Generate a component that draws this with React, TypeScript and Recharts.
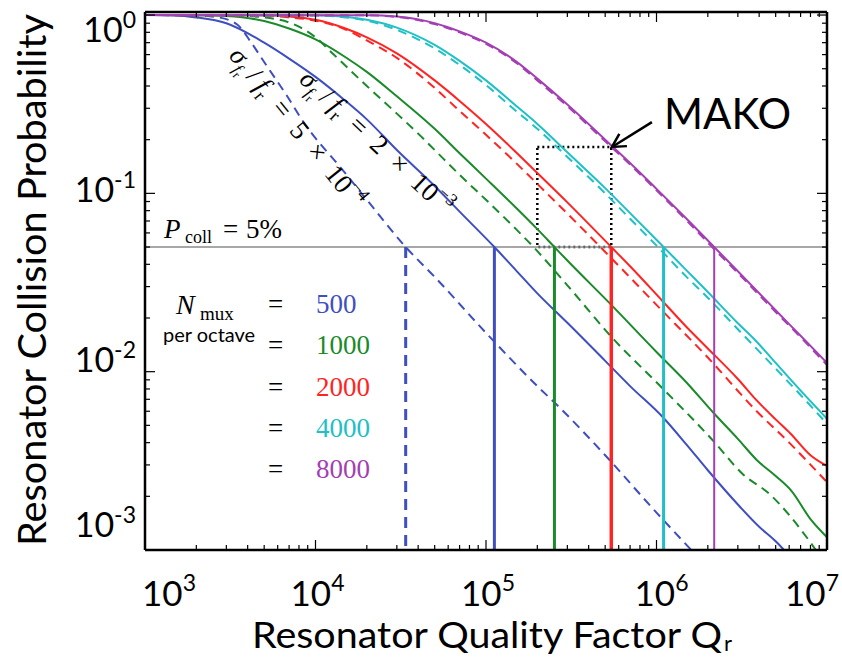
import React from 'react';
import { LineChart, Line, XAxis, YAxis, ReferenceLine, ReferenceArea } from 'recharts';

const W = 842;
const H = 657;

const BLUE = '#3f4fbf';
const GREEN = '#1b8a2b';
const RED = '#ff2424';
const CYAN = '#20c0c6';
const PURPLE = '#a33fb3';

// axis ticks
const xMajor = [1e3, 1e4, 1e5, 1e6, 1e7];
const yMajor = [1e-3, 1e-2, 1e-1, 1];
const minorSteps = [2, 3, 4, 5, 6, 7, 8, 9];
const xTicks = [...xMajor, ...xMajor.slice(0, 4).flatMap((d) => minorSteps.map((k) => k * d))];
const yTicks = [...yMajor, ...yMajor.slice(0, 3).flatMap((d) => minorSteps.map((k) => k * d))];

// [Q, P]
const blueDashed = [
  [1e3, 1], [2e3, 0.995], [2.7e3, 0.97], [3.5e3, 0.88], [4.2e3, 0.7], [5e3, 0.545], [6.7e3, 0.36],
  [9e3, 0.232], [1e4, 0.204], [1.4e4, 0.14], [2e4, 0.092], [3.38e4, 0.05], [5e4, 0.034], [1e5, 0.0165],
  [2e5, 0.0083], [2.7e5, 0.0063], [5e5, 0.0034], [1e6, 0.00162], [1.6e6, 0.001],
];
const blueSolid = [
  [1e3, 1], [1.5e3, 0.995], [2e3, 0.97], [3e3, 0.9], [5e3, 0.7], [7e3, 0.57], [1e4, 0.45], [1.5e4, 0.33],
  [2e4, 0.26], [3e4, 0.175], [5e4, 0.11], [7e4, 0.079], [1.12e5, 0.05], [1.5e5, 0.037], [2e5, 0.0275],
  [3e5, 0.0188], [5e5, 0.0115], [7e5, 0.0083], [1.1e6, 0.0055], [1.5e6, 0.0039], [2e6, 0.0028],
  [3e6, 0.0018], [4e6, 0.00135], [5e6, 0.00112], [5.6e6, 0.001],
];
const greenDashed = [
  [1e3, 1], [3e3, 0.997], [5e3, 0.97], [8.2e3, 0.85], [1e4, 0.75], [1.28e4, 0.6], [2e4, 0.4], [3e4, 0.28],
  [4.13e4, 0.21], [5e4, 0.175], [7e4, 0.127], [1e5, 0.092], [1.5e5, 0.063], [1.9e5, 0.05], [3e5, 0.0305],
  [5.5e5, 0.0155], [1.08e6, 0.0081], [2.15e6, 0.0041], [3.2e6, 0.00267], [4.6e6, 0.00206],
  [7.9e6, 0.00112], [8.6e6, 0.001],
];
const greenSolid = [
  [1e3, 1], [2e3, 0.998], [3e3, 0.987], [5e3, 0.925], [7e3, 0.84], [1e4, 0.73], [1.5e4, 0.58], [2e4, 0.48],
  [3e4, 0.35], [5e4, 0.23], [7e4, 0.168], [1e5, 0.121], [1.5e5, 0.083], [2e5, 0.063], [2.52e5, 0.05],
  [3e5, 0.042], [5.36e5, 0.024], [1e6, 0.0129], [1.5e6, 0.0087], [2.15e6, 0.0059], [3e6, 0.0042],
  [3.87e6, 0.0032], [5e6, 0.0026], [6.2e6, 0.00214], [8e6, 0.00149], [1e7, 0.00118],
];
const redDashed = [
  [1e3, 1], [5e3, 0.993], [7e3, 0.97], [1e4, 0.93], [1.5e4, 0.83], [2e4, 0.72], [3e4, 0.575], [5e4, 0.39],
  [7e4, 0.29], [1e5, 0.213], [1.5e5, 0.148], [2e5, 0.113], [3e5, 0.077], [4.69e5, 0.05], [6.14e5, 0.0384],
  [1e6, 0.0237], [2e6, 0.012], [3.87e6, 0.006], [6e6, 0.004], [1e7, 0.0024],
];
const redSolid = [
  [1e3, 1], [5e3, 0.996], [7e3, 0.981], [1e4, 0.94], [1.5e4, 0.84], [2e4, 0.75], [3e4, 0.61], [5e4, 0.43],
  [7e4, 0.33], [1e5, 0.245], [1.5e5, 0.17], [2e5, 0.13], [3e5, 0.089], [5.43e5, 0.05], [7e5, 0.039],
  [1.08e6, 0.025], [1.5e6, 0.0178], [2e6, 0.0135], [3e6, 0.0091], [3.87e6, 0.0069], [5e6, 0.0054],
  [6.1e6, 0.0045], [8e6, 0.0034], [1e7, 0.00296],
];
const cyanDashed = [
  [1e3, 1], [1e4, 0.995], [1.5e4, 0.97], [2e4, 0.93], [3e4, 0.825], [5e4, 0.65], [7e4, 0.525], [1e5, 0.405],
  [1.5e5, 0.29], [2e5, 0.23], [3e5, 0.16], [5e5, 0.1], [7e5, 0.072], [1.02e6, 0.05], [1.5e6, 0.034],
  [2e6, 0.026], [3e6, 0.0173], [5e6, 0.0104], [7e6, 0.0074], [1e7, 0.0051],
];
const cyanSolid = [
  [1e3, 1], [1e4, 0.997], [1.5e4, 0.977], [2e4, 0.94], [3e4, 0.85], [5e4, 0.68], [7e4, 0.553], [1e5, 0.43],
  [1.5e5, 0.31], [2e5, 0.245], [3e5, 0.17], [5e5, 0.107], [7e5, 0.0775], [1.1e6, 0.05], [1.5e6, 0.037],
  [2e6, 0.028], [3e6, 0.0187], [3.7e6, 0.0154], [5e6, 0.0112], [7.6e6, 0.0072], [1e7, 0.00544],
];
const purpleSolid = [
  [1e3, 1], [2e4, 0.997], [3e4, 0.98], [5e4, 0.9], [7e4, 0.81], [1e5, 0.7], [1.5e5, 0.55], [2e5, 0.44],
  [3e5, 0.315], [5e5, 0.2], [7e5, 0.148], [1e6, 0.106], [1.5e6, 0.072], [2.18e6, 0.05], [3e6, 0.0366],
  [5e6, 0.0221], [7e6, 0.0159], [1e7, 0.0112],
];
const purpleDashed = [
  [1e3, 1], [2e4, 0.996], [3e4, 0.976], [5e4, 0.89], [7e4, 0.8], [1e5, 0.69], [1.5e5, 0.54], [2e5, 0.43],
  [3e5, 0.308], [5e5, 0.196], [7e5, 0.145], [1e6, 0.104], [1.5e6, 0.0705], [2.12e6, 0.05], [3e6, 0.0358],
  [5e6, 0.0216], [7e6, 0.0156], [1e7, 0.0109],
];

// Q where each curve hits P = 5%
const crossings = [
  { q: 3.38e4, color: BLUE, dashed: true, width: 3 },
  { q: 1.12e5, color: BLUE, dashed: false, width: 3 },
  { q: 2.52e5, color: GREEN, dashed: false, width: 3 },
  { q: 5.43e5, color: RED, dashed: false, width: 3.5 },
  { q: 1.1e6, color: CYAN, dashed: false, width: 3 },
  { q: 2.18e6, color: PURPLE, dashed: false, width: 2 },
];

const nmux = ['500', '1000', '2000', '4000', '8000'];
const nmuxColors = [BLUE, GREEN, RED, CYAN, PURPLE];

const toRows = (pairs: number[][]) => pairs.map(([q, p]) => ({ q, p }));

const series = [
  { name: 'blue-dash', data: blueDashed, color: BLUE, dashed: true },
  { name: 'blue', data: blueSolid, color: BLUE, dashed: false },
  { name: 'green-dash', data: greenDashed, color: GREEN, dashed: true },
  { name: 'green', data: greenSolid, color: GREEN, dashed: false },
  { name: 'red-dash', data: redDashed, color: RED, dashed: true },
  { name: 'red', data: redSolid, color: RED, dashed: false },
  { name: 'cyan-dash', data: cyanDashed, color: CYAN, dashed: true },
  { name: 'cyan', data: cyanSolid, color: CYAN, dashed: false },
  { name: 'purple', data: purpleSolid, color: PURPLE, dashed: false },
  { name: 'purple-dash', data: purpleDashed, color: PURPLE, dashed: true },
];

const SANS = 'Lato, "Open Sans", sans-serif';
const SERIF = '"Liberation Serif", "DejaVu Serif", serif';

const isMajor = (v: number) => {
  const l = Math.log10(v);
  return Math.abs(l - Math.round(l)) < 1e-6;
};

const xLabelShift: Record<number, number> = { 3: 24, 4: 2, 5: 2, 6: 5, 7: -15 };
const yLabelBase: Record<number, number> = { 0: 42, [-1]: 202, [-2]: 372, [-3]: 537 };

function BottomTick(props: any) {
  const { x, y, payload } = props;
  const major = isMajor(payload.value);
  const e = Math.round(Math.log10(payload.value));
  return (
    <g>
      <line x1={x} x2={x} y1={y} y2={y - (major ? 10 : 5)} stroke="#000" strokeWidth={1.2} />
      {major && (
        <text x={x + xLabelShift[e]} y={606} textAnchor="middle" fontFamily={SANS} fontSize={35} fill="#000">
          10<tspan dy={-15} fontSize={23}>{e}</tspan>
        </text>
      )}
    </g>
  );
}

function TopTick(props: any) {
  const { x, y, payload } = props;
  const major = isMajor(payload.value);
  return <line x1={x} x2={x} y1={y} y2={y + (major ? 10 : 5)} stroke="#000" strokeWidth={1.2} />;
}

function LeftTick(props: any) {
  const { x, y, payload } = props;
  const major = isMajor(payload.value);
  const e = Math.round(Math.log10(payload.value));
  return (
    <g>
      <line x1={x} x2={x + (major ? 10 : 5)} y1={y} y2={y} stroke="#000" strokeWidth={1.2} />
      {major && (
        <text x={136} y={yLabelBase[e]} textAnchor="end" fontFamily={SANS} fontSize={34} fill="#000">
          10<tspan dy={-14} fontSize={23}>{e}</tspan>
        </text>
      )}
    </g>
  );
}

function RightTick(props: any) {
  const { x, y, payload } = props;
  const major = isMajor(payload.value);
  return <line x1={x} x2={x - (major ? 10 : 5)} y1={y} y2={y} stroke="#000" strokeWidth={1.2} />;
}

function Arrow(props: any) {
  const { x1, y1, x2, y2 } = props;
  const a = Math.atan2(y2 - y1, x2 - x1);
  const len = 15;
  const h = 0.5;
  const p1 = `${x2 - len * Math.cos(a - h)},${y2 - len * Math.sin(a - h)}`;
  const p2 = `${x2 - len * Math.cos(a + h)},${y2 - len * Math.sin(a + h)}`;
  return (
    <g>
      <line x1={x1} y1={y1} x2={x2} y2={y2} stroke="#000" strokeWidth={2.5} />
      <polyline points={`${p1} ${x2},${y2} ${p2}`} fill="none" stroke="#000" strokeWidth={2.5} />
    </g>
  );
}

const axisLine = { stroke: '#000', strokeWidth: 2.5 };

function SigmaLabel({ x, y, angle, value, exp }: any) {
  return (
    <text transform={`translate(${x},${y}) rotate(${angle})`} fontFamily={SERIF} fontSize={27} fill="#000">
      <tspan fontStyle="italic">σ</tspan>
      <tspan fontSize={17} dy={6} fontStyle="italic">f</tspan>
      <tspan fontSize={12} dy={3}>r</tspan>
      <tspan dy={-9}>{'\u2009/\u2009'}</tspan>
      <tspan fontStyle="italic">f</tspan>
      <tspan fontSize={18} dy={6}>r</tspan>
      <tspan dy={-6}>{`\u2002=\u2002${value}\u2002×\u200210`}</tspan>
      <tspan fontSize={18} dy={-12}>{`−${exp}`}</tspan>
    </text>
  );
}

export default function App() {
  return (
    <div style={{ position: 'absolute', left: 0, top: 0, width: W, height: H, background: '#fff' }}>
      <LineChart width={W} height={H} margin={{ top: 11, right: 14, bottom: 0, left: 0 }}>
        <XAxis
          xAxisId="b"
          dataKey="q"
          type="number"
          scale="log"
          domain={[1e3, 1e7]}
          allowDataOverflow
          ticks={xTicks}
          interval={0}
          tick={<BottomTick />}
          tickLine={false}
          tickSize={0}
          tickMargin={0}
          height={107}
          axisLine={axisLine}
        />
        <XAxis
          xAxisId="t"
          orientation="top"
          dataKey="q"
          type="number"
          scale="log"
          domain={[1e3, 1e7]}
          allowDataOverflow
          ticks={xTicks}
          interval={0}
          tick={<TopTick />}
          tickLine={false}
          tickSize={0}
          tickMargin={0}
          height={1}
          axisLine={axisLine}
        />
        <YAxis
          yAxisId="l"
          type="number"
          scale="log"
          domain={[1e-3, 1.04]}
          allowDataOverflow
          ticks={yTicks}
          interval={0}
          tick={<LeftTick />}
          tickLine={false}
          tickSize={0}
          tickMargin={0}
          width={145}
          axisLine={axisLine}
        />
        <YAxis
          yAxisId="r"
          orientation="right"
          type="number"
          scale="log"
          domain={[1e-3, 1.04]}
          allowDataOverflow
          ticks={yTicks}
          interval={0}
          tick={<RightTick />}
          tickLine={false}
          tickSize={0}
          tickMargin={0}
          width={1}
          axisLine={axisLine}
        />

        <ReferenceLine xAxisId="b" yAxisId="l" y={0.05} stroke="#8a8a8a" strokeWidth={1.6} />

        {series.map((s) => (
          <Line
            key={s.name}
            xAxisId="b"
            yAxisId="l"
            data={toRows(s.data)}
            dataKey="p"
            type="monotone"
            stroke={s.color}
            strokeWidth={2}
            strokeDasharray={s.dashed ? '9 6' : undefined}
            dot={false}
            activeDot={false}
            isAnimationActive={false}
          />
        ))}

        {crossings.map((c, i) => (
          <ReferenceLine
            key={i}
            xAxisId="b"
            yAxisId="l"
            segment={[{ x: c.q, y: 0.05 }, { x: c.q, y: 1e-3 }]}
            stroke={c.color}
            strokeWidth={c.width}
            strokeDasharray={c.dashed ? '11 7' : undefined}
          />
        ))}

        <ReferenceArea
          xAxisId="b"
          yAxisId="l"
          x1={2e5}
          x2={5.43e5}
          y1={0.05}
          y2={0.182}
          fill="none"
          fillOpacity={0}
          stroke="#000"
          strokeWidth={2.5}
          strokeDasharray="2 3"
        />
        <ReferenceLine
          xAxisId="b"
          yAxisId="l"
          segment={[{ x: 9.4e5, y: 0.251 }, { x: 5.48e5, y: 0.182 }]}
          shape={Arrow}
        />
      </LineChart>

      <svg width={W} height={H} style={{ position: 'absolute', left: 0, top: 0, pointerEvents: 'none' }}>
        <text
          transform="translate(46,280) rotate(-90)"
          textAnchor="middle"
          fontFamily={SANS}
          fontSize={39}
          textLength={532}
          lengthAdjust="spacingAndGlyphs"
        >
          Resonator Collision Probability
        </text>
        <text x={252} y={648} fontFamily={SANS} fontSize={37} textLength={470} lengthAdjust="spacingAndGlyphs">
          Resonator Quality Factor Q
        </text>
        <text x={724} y={651} fontFamily={SANS} fontSize={22}>r</text>

        <text x={664} y={129} fontFamily={SANS} fontSize={42}>MAKO</text>

        <text y={238} fontFamily={SERIF} fontSize={27}>
          <tspan x={164} fontStyle="italic">P</tspan>
          <tspan x={185} fontSize={18} dy={5}>coll</tspan>
          <tspan x={223} dy={-5}>=</tspan>
          <tspan x={246}>5%</tspan>
        </text>

        <SigmaLabel x={228} y={56} angle={51} value="5" exp="4" />
        <SigmaLabel x={298} y={81} angle={43} value="2" exp="3" />

        <text y={314} fontFamily={SERIF} fontSize={28}>
          <tspan x={176} fontStyle="italic">N</tspan>
          <tspan x={200} fontSize={19} dy={6}>mux</tspan>
        </text>
        <text x={163} y={342} fontFamily={SANS} fontSize={20}>per octave</text>
        {nmux.map((n, i) => (
          <g key={n}>
            <text x={268} y={313 + i * 41.3} fontFamily={SERIF} fontSize={27}>=</text>
            <text x={316} y={313 + i * 41.3} fontFamily={SERIF} fontSize={27} fill={nmuxColors[i]}>
              {n}
            </text>
          </g>
        ))}
      </svg>
    </div>
  );
}
